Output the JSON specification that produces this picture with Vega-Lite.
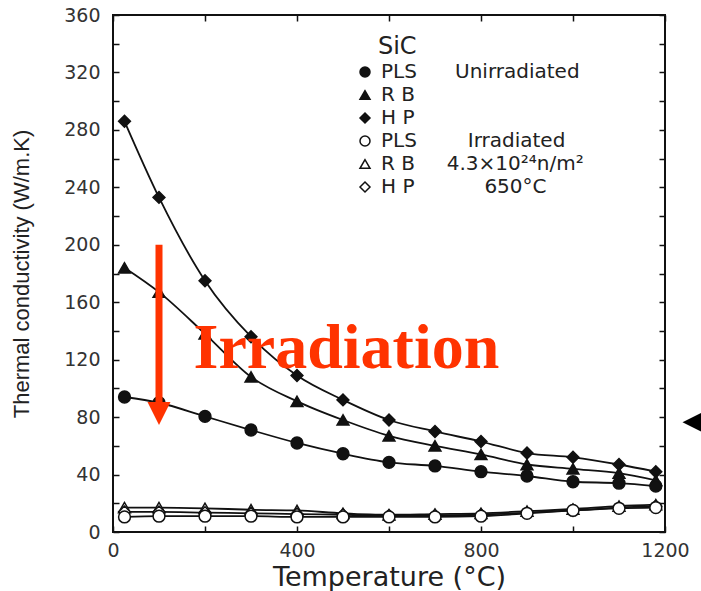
{
  "$schema": "https://vega.github.io/schema/vega-lite/v6.json",
  "width": 552,
  "height": 517,
  "autosize": {"type": "none"},
  "padding": {"left": 113, "top": 15, "right": 36, "bottom": 59},
  "background": "white",
  "config": {
    "view": {"stroke": "#111", "strokeWidth": 2},
    "axis": {
      "grid": false,
      "domain": false,
      "tickColor": "#111",
      "tickWidth": 1.5,
      "tickSize": 6,
      "offset": -6,
      "labelFont": "DejaVu Sans",
      "labelFontSize": 19,
      "labelColor": "#333",
      "labelFlush": false,
      "labelOverlap": false,
      "labelBound": false,
      "titleFontWeight": "normal",
      "titleColor": "#222"
    }
  },
  "datasets": {
    "tc": [
      {"series": "HP-u", "T": 25, "K": 286}, {"series": "HP-u", "T": 100, "K": 233}, {"series": "HP-u", "T": 200, "K": 175}, {"series": "HP-u", "T": 300, "K": 136}, {"series": "HP-u", "T": 400, "K": 109}, {"series": "HP-u", "T": 500, "K": 92}, {"series": "HP-u", "T": 600, "K": 78}, {"series": "HP-u", "T": 700, "K": 70}, {"series": "HP-u", "T": 800, "K": 63}, {"series": "HP-u", "T": 900, "K": 55}, {"series": "HP-u", "T": 1000, "K": 52}, {"series": "HP-u", "T": 1100, "K": 47}, {"series": "HP-u", "T": 1180, "K": 42},
      {"series": "RB-u", "T": 25, "K": 184}, {"series": "RB-u", "T": 100, "K": 167}, {"series": "RB-u", "T": 200, "K": 138}, {"series": "RB-u", "T": 300, "K": 108}, {"series": "RB-u", "T": 400, "K": 91}, {"series": "RB-u", "T": 500, "K": 78}, {"series": "RB-u", "T": 600, "K": 67}, {"series": "RB-u", "T": 700, "K": 60}, {"series": "RB-u", "T": 800, "K": 54}, {"series": "RB-u", "T": 900, "K": 47}, {"series": "RB-u", "T": 1000, "K": 44}, {"series": "RB-u", "T": 1100, "K": 41}, {"series": "RB-u", "T": 1180, "K": 36},
      {"series": "PLS-u", "T": 25, "K": 94}, {"series": "PLS-u", "T": 100, "K": 90}, {"series": "PLS-u", "T": 200, "K": 80.5}, {"series": "PLS-u", "T": 300, "K": 71}, {"series": "PLS-u", "T": 400, "K": 62}, {"series": "PLS-u", "T": 500, "K": 54.5}, {"series": "PLS-u", "T": 600, "K": 48.5}, {"series": "PLS-u", "T": 700, "K": 46}, {"series": "PLS-u", "T": 800, "K": 42}, {"series": "PLS-u", "T": 900, "K": 39}, {"series": "PLS-u", "T": 1000, "K": 35}, {"series": "PLS-u", "T": 1100, "K": 34}, {"series": "PLS-u", "T": 1180, "K": 32},
      {"series": "RB-i", "T": 25, "K": 17}, {"series": "RB-i", "T": 100, "K": 17}, {"series": "RB-i", "T": 200, "K": 16.5}, {"series": "RB-i", "T": 300, "K": 15.5}, {"series": "RB-i", "T": 400, "K": 15}, {"series": "RB-i", "T": 500, "K": 13}, {"series": "RB-i", "T": 600, "K": 12}, {"series": "RB-i", "T": 700, "K": 12.5}, {"series": "RB-i", "T": 800, "K": 13}, {"series": "RB-i", "T": 900, "K": 14.5}, {"series": "RB-i", "T": 1000, "K": 16}, {"series": "RB-i", "T": 1100, "K": 18}, {"series": "RB-i", "T": 1180, "K": 19},
      {"series": "HP-i", "T": 25, "K": 14}, {"series": "HP-i", "T": 100, "K": 14}, {"series": "HP-i", "T": 200, "K": 13.5}, {"series": "HP-i", "T": 300, "K": 13}, {"series": "HP-i", "T": 400, "K": 12.5}, {"series": "HP-i", "T": 500, "K": 12}, {"series": "HP-i", "T": 600, "K": 11.5}, {"series": "HP-i", "T": 700, "K": 11.5}, {"series": "HP-i", "T": 800, "K": 12}, {"series": "HP-i", "T": 900, "K": 13.5}, {"series": "HP-i", "T": 1000, "K": 15}, {"series": "HP-i", "T": 1100, "K": 17}, {"series": "HP-i", "T": 1180, "K": 18},
      {"series": "PLS-i", "T": 25, "K": 10.5}, {"series": "PLS-i", "T": 100, "K": 11}, {"series": "PLS-i", "T": 200, "K": 11}, {"series": "PLS-i", "T": 300, "K": 11}, {"series": "PLS-i", "T": 400, "K": 10.5}, {"series": "PLS-i", "T": 500, "K": 10.5}, {"series": "PLS-i", "T": 600, "K": 10.5}, {"series": "PLS-i", "T": 700, "K": 10.5}, {"series": "PLS-i", "T": 800, "K": 11}, {"series": "PLS-i", "T": 900, "K": 13}, {"series": "PLS-i", "T": 1000, "K": 15}, {"series": "PLS-i", "T": 1100, "K": 16.5}, {"series": "PLS-i", "T": 1180, "K": 17}
    ]
  },
  "resolve": {"axis": {"x": "independent", "y": "independent"}},
  "layer": [
    {
      "encoding": {
        "x": {
          "field": "T", "type": "quantitative",
          "scale": {"domain": [0, 1200], "nice": false, "zero": false},
          "axis": {
            "orient": "bottom",
            "title": "Temperature (°C)",
            "titleFont": "DejaVu Sans", "titleFontSize": 27, "titlePadding": 4,
            "values": [0, 200, 400, 600, 800, 1000, 1200],
            "format": "d",
            "labelExpr": "datum.value % 400 === 0 ? datum.label : ''",
            "labelPadding": 9
          }
        },
        "y": {
          "field": "K", "type": "quantitative",
          "scale": {"domain": [0, 360], "nice": false, "zero": false},
          "axis": {
            "orient": "left",
            "title": "Thermal conductivity (W/m.K)",
            "titleFont": "Liberation Sans", "titleFontSize": 22, "titlePadding": 30,
            "values": [0, 20, 40, 60, 80, 100, 120, 140, 160, 180, 200, 220, 240, 260, 280, 300, 320, 340, 360],
            "format": "d",
            "labelExpr": "datum.value % 40 === 0 ? datum.label : ''",
            "labelPadding": 13
          }
        }
      },
      "layer": [
        {
          "data": {"name": "tc"},
          "mark": {"type": "line", "interpolate": "monotone", "stroke": "#111", "strokeWidth": 1.8},
          "encoding": {"detail": {"field": "series", "type": "nominal"}}
        },
        {
          "data": {"name": "tc"},
          "mark": {"type": "point", "filled": true, "stroke": "#111", "strokeWidth": 1.5, "size": 140, "opacity": 1},
          "encoding": {
            "shape": {
              "field": "series", "type": "nominal",
              "scale": {"domain": ["PLS-u", "RB-u", "HP-u", "PLS-i", "RB-i", "HP-i"], "range": ["circle", "triangle-up", "diamond", "circle", "triangle-up", "diamond"]},
              "legend": {
                "orient": "none", "legendX": 242, "legendY": 47, "padding": 0,
                "title": null,
                "labelFont": "DejaVu Sans", "labelFontSize": 20, "labelColor": "#222", "labelOffset": 6, "labelLimit": 400,
                "symbolSize": 100, "symbolStrokeWidth": 1.5, "rowPadding": 3,
                "encode": {
                  "symbols": {"update": {"stroke": {"value": "#111"}, "strokeWidth": {"value": 1.5}}}
                },
                "labelExpr": "datum.value == 'PLS-u' ? 'PLS\u00a0\u00a0\u00a0\u00a0\u00a0\u00a0Unirradiated' : datum.value == 'RB-u' ? 'R B' : datum.value == 'HP-u' ? 'H P' : datum.value == 'PLS-i' ? 'PLS\u00a0\u00a0\u00a0\u00a0\u00a0\u00a0\u00a0\u00a0Irradiated' : datum.value == 'RB-i' ? 'R B\u00a0\u00a0\u00a0\u00a0\u00a04.3×10²⁴n/m²' : 'H P\u00a0\u00a0\u00a0\u00a0\u00a0\u00a0\u00a0\u00a0\u00a0\u00a0\u00a0650°C'"
              }
            },
            "fill": {
              "field": "series", "type": "nominal",
              "scale": {"domain": ["PLS-u", "RB-u", "HP-u", "PLS-i", "RB-i", "HP-i"], "range": ["#111", "#111", "#111", "white", "white", "white"]},
              "legend": {
                "orient": "none", "legendX": 242, "legendY": 47, "padding": 0,
                "title": null,
                "labelFont": "DejaVu Sans", "labelFontSize": 20, "labelColor": "#222", "labelOffset": 6, "labelLimit": 400,
                "symbolSize": 100, "symbolStrokeWidth": 1.5, "rowPadding": 3,
                "encode": {
                  "symbols": {"update": {"stroke": {"value": "#111"}, "strokeWidth": {"value": 1.5}}}
                },
                "labelExpr": "datum.value == 'PLS-u' ? 'PLS\u00a0\u00a0\u00a0\u00a0\u00a0\u00a0Unirradiated' : datum.value == 'RB-u' ? 'R B' : datum.value == 'HP-u' ? 'H P' : datum.value == 'PLS-i' ? 'PLS\u00a0\u00a0\u00a0\u00a0\u00a0\u00a0\u00a0\u00a0Irradiated' : datum.value == 'RB-i' ? 'R B\u00a0\u00a0\u00a0\u00a0\u00a04.3×10²⁴n/m²' : 'H P\u00a0\u00a0\u00a0\u00a0\u00a0\u00a0\u00a0\u00a0\u00a0\u00a0\u00a0650°C'"
              }
            }
          }
        },
        {
          "data": {"values": [{"T": 576, "K": 337.5, "label": "SiC"}]},
          "mark": {"type": "text", "font": "DejaVu Sans", "fontSize": 24, "fill": "#222", "align": "left", "baseline": "middle"},
          "encoding": {"text": {"field": "label"}}
        },
        {
          "data": {"values": [{"T": 100, "K": 200, "K2": 90.5}]},
          "mark": {"type": "rule", "stroke": "#FF3300", "strokeWidth": 7},
          "encoding": {"y2": {"field": "K2"}}
        },
        {
          "data": {"values": [{"T": 100, "K": 82.5}]},
          "mark": {"type": "point", "shape": "M-1,-1L1,-1L0,1Z", "size": 529, "filled": true, "fill": "#FF3300", "opacity": 1, "strokeWidth": 0}
        },
        {
          "data": {"values": [{"T": 175, "K": 114, "label": "Irradiation"}]},
          "mark": {"type": "text", "font": "Liberation Serif", "fontWeight": "bold", "fontSize": 64, "fill": "#FF3300", "align": "left", "baseline": "alphabetic"},
          "encoding": {"text": {"field": "label"}}
        },
        {
          "data": {"values": [{"T": 1262, "K": 76.5}]},
          "mark": {"type": "point", "shape": "M1,-1L-1,0L1,1Z", "size": 484, "filled": true, "fill": "#000", "opacity": 1, "strokeWidth": 0}
        }
      ]
    },
    {
      "data": {"values": [{"T": 0, "K": 0}]},
      "mark": {"type": "point", "opacity": 0},
      "encoding": {
        "x": {"field": "T", "type": "quantitative", "axis": {"orient": "top", "labels": false, "title": null, "values": [0, 200, 400, 600, 800, 1000, 1200]}},
        "y": {"field": "K", "type": "quantitative", "axis": {"orient": "right", "labels": false, "title": null, "values": [0, 20, 40, 60, 80, 100, 120, 140, 160, 180, 200, 220, 240, 260, 280, 300, 320, 340, 360]}}
      }
    }
  ]
}
